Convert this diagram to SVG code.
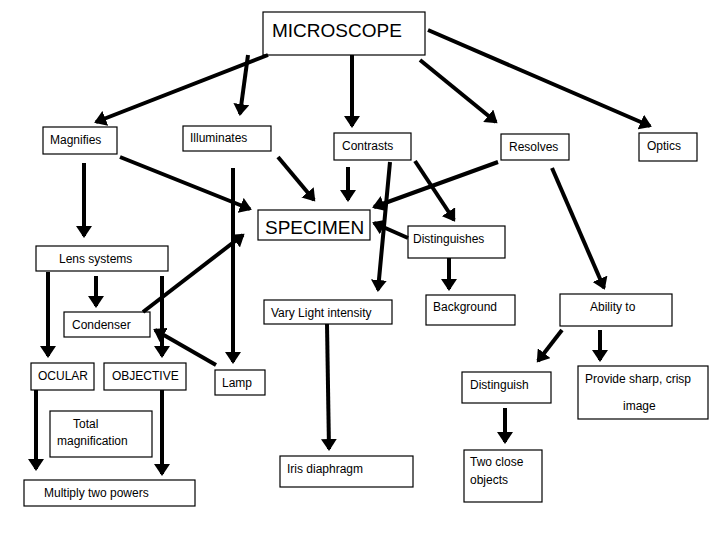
<svg xmlns="http://www.w3.org/2000/svg" width="720" height="540" viewBox="0 0 720 540">
<style>
rect{fill:#fff;stroke:#000;stroke-width:1.2}
text{font-family:"Liberation Sans",Arial,sans-serif;font-size:12px;fill:#000}
.big{font-size:19px}
.c line{stroke:#000;stroke-width:4;marker-end:url(#a)}
</style>
<defs><marker id="a" markerWidth="4" markerHeight="4" refX="2.5" refY="2" orient="auto" markerUnits="strokeWidth"><path d="M0,0L3,2L0,4z" fill="#000"/></marker></defs>
<rect width="720" height="540" style="stroke:none"/>
<g id="n-microscope"><rect x="263" y="12" width="162" height="43"/><text class="big" x="272" y="37">MICROSCOPE</text></g>
<g id="n-magnifies"><rect x="43" y="127" width="74" height="27"/><text x="50" y="144">Magnifies</text></g>
<g id="n-illuminates"><rect x="183" y="126" width="88" height="25"/><text x="190" y="142">Illuminates</text></g>
<g id="n-contrasts"><rect x="334" y="133" width="77" height="27"/><text x="342" y="150">Contrasts</text></g>
<g id="n-resolves"><rect x="501" y="134" width="68" height="26"/><text x="509" y="151">Resolves</text></g>
<g id="n-optics"><rect x="639" y="133" width="58" height="28"/><text x="647" y="150">Optics</text></g>
<g id="n-specimen"><rect x="258" y="210" width="112" height="30"/><text class="big" x="265" y="234">SPECIMEN</text></g>
<g id="n-distinguishes"><rect x="408" y="226" width="97" height="32"/><text x="413" y="243">Distinguishes</text></g>
<g id="n-lens"><rect x="36" y="246" width="132" height="25"/><text x="59" y="263">Lens systems</text></g>
<g id="n-condenser"><rect x="64" y="312" width="86" height="25"/><text x="72" y="329">Condenser</text></g>
<g id="n-vary"><rect x="264" y="300" width="128" height="24"/><text x="271" y="317">Vary Light intensity</text></g>
<g id="n-background"><rect x="426" y="295" width="89" height="30"/><text x="433" y="311">Background</text></g>
<g id="n-ability"><rect x="560" y="294" width="112" height="32"/><text x="590" y="311">Ability to</text></g>
<g id="n-ocular"><rect x="31" y="363" width="63" height="27"/><text x="38" y="380">OCULAR</text></g>
<g id="n-objective"><rect x="104" y="363" width="82" height="27"/><text x="112" y="380">OBJECTIVE</text></g>
<g id="n-lamp"><rect x="215" y="370" width="50" height="25"/><text x="222" y="387">Lamp</text></g>
<g id="n-distinguish"><rect x="462" y="372" width="89" height="31"/><text x="470" y="389">Distinguish</text></g>
<g id="n-provide"><rect x="578" y="366" width="130" height="53"/><text x="585" y="383">Provide sharp, crisp</text><text x="623" y="410">image</text></g>
<g id="n-total"><rect x="50" y="411" width="102" height="46"/><text x="73" y="428">Total</text><text x="57" y="445">magnification</text></g>
<g id="n-multiply"><rect x="24" y="480" width="171" height="26"/><text x="44" y="497">Multiply two powers</text></g>
<g id="n-iris"><rect x="280" y="456" width="133" height="31"/><text x="287" y="473">Iris diaphragm</text></g>
<g id="n-twoclose"><rect x="464" y="450" width="78" height="52"/><text x="470" y="466">Two close</text><text x="470" y="484">objects</text></g>
<g class="c" id="connectors">
<line x1="268" y1="55" x2="96" y2="122"/>
<line x1="248" y1="55" x2="240" y2="114"/>
<line x1="352" y1="55" x2="352" y2="126"/>
<line x1="420" y1="60" x2="496" y2="122"/>
<line x1="428" y1="30" x2="650" y2="126"/>
<line x1="84" y1="163" x2="84" y2="236"/>
<line x1="120" y1="157" x2="250" y2="209"/>
<line x1="278" y1="157" x2="314" y2="200"/>
<line x1="348" y1="167" x2="348" y2="200"/>
<line x1="498" y1="162" x2="374" y2="207"/>
<line x1="415" y1="161" x2="454" y2="220"/>
<line x1="408" y1="238" x2="374" y2="223"/>
<line x1="390" y1="162" x2="378" y2="290"/>
<line x1="552" y1="168" x2="604" y2="288"/>
<line x1="449" y1="258" x2="449" y2="289"/>
<line x1="96" y1="276" x2="96" y2="306"/>
<line x1="48" y1="272" x2="48" y2="356"/>
<line x1="162" y1="276" x2="162" y2="356"/>
<line x1="143" y1="312" x2="243" y2="235"/>
<line x1="216" y1="365" x2="155" y2="330"/>
<line x1="233" y1="168" x2="233" y2="362"/>
<line x1="327" y1="324" x2="329" y2="449"/>
<line x1="562" y1="330" x2="538" y2="361"/>
<line x1="600" y1="330" x2="600" y2="360"/>
<line x1="505" y1="408" x2="505" y2="442"/>
<line x1="36" y1="390" x2="36" y2="469"/>
<line x1="162" y1="390" x2="162" y2="474"/>
</g>
</svg>
